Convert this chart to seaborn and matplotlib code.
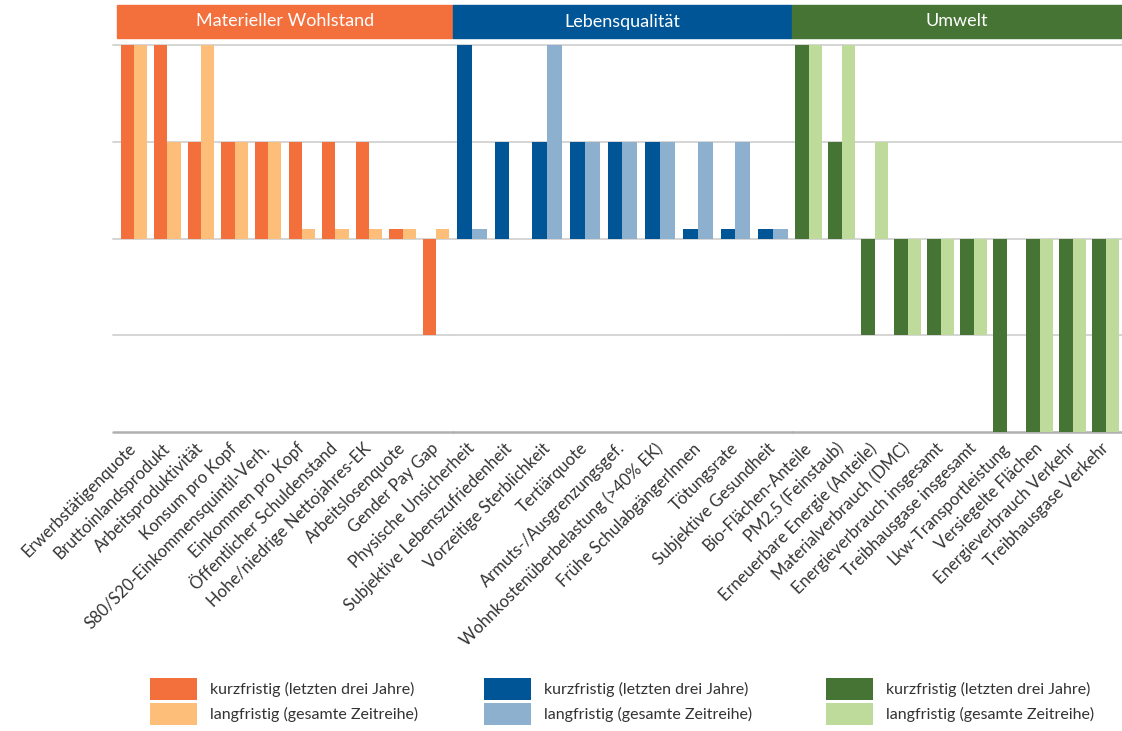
import numpy as np
import pandas as pd
import matplotlib
matplotlib.use("Agg")
import matplotlib.pyplot as plt
from matplotlib.patches import Rectangle, Patch
import seaborn as sns

# Scores: 2 / 1 / 0 / -1 / -2, NaN = no assessment
mat_cats = ["Erwerbstätigenquote", "Bruttoinlandsprodukt", "Arbeitsproduktivität",
            "Konsum pro Kopf", "S80/S20-Einkommensquintil-Verh.", "Einkommen pro Kopf",
            "Öffentlicher Schuldenstand", "Hohe/niedrige Nettojahres-EK",
            "Arbeitslosenquote", "Gender Pay Gap"]
mat_short = [2, 2, 1, 1, 1, 1, 1, 1, 0, -1]
mat_long = [2, 1, 2, 1, 1, 0, 0, 0, 0, 0]

leb_cats = ["Physische Unsicherheit", "Subjektive Lebenszufriedenheit",
            "Vorzeitige Sterblichkeit", "Tertiärquote", "Armuts-/Ausgrenzungsgef.",
            "Wohnkostenüberbelastung (>40% EK)", "Frühe SchulabgängerInnen",
            "Tötungsrate", "Subjektive Gesundheit"]
leb_short = [2, 1, 1, 1, 1, 1, 0, 0, 0]
leb_long = [0, np.nan, 2, 1, 1, 1, 1, 1, 0]

umw_cats = ["Bio-Flächen-Anteile", "PM2,5 (Feinstaub)", "Erneuerbare Energie (Anteile)",
            "Materialverbrauch (DMC)", "Energieverbrauch insgesamt",
            "Treibhausgase insgesamt", "Lkw-Transportleistung", "Versiegelte Flächen",
            "Energieverbrauch Verkehr", "Treibhausgase Verkehr"]
umw_short = [2, 1, -1, -1, -1, -1, -2, -2, -2, -2]
umw_long = [2, 2, 1, -1, -1, -1, np.nan, -2, -2, -2]

periods = ["kurzfristig (letzten drei Jahre)", "langfristig (gesamte Zeitreihe)"]

groups = [
    ("Materieller Wohlstand", mat_cats, mat_short, mat_long, ["#F3703D", "#FDBE79"]),
    ("Lebensqualität", leb_cats, leb_short, leb_long, ["#005597", "#8CB0CE"]),
    ("Umwelt", umw_cats, umw_short, umw_long, ["#467434", "#BEDB9C"]),
]

sns.set_theme(style="white")
plt.rcParams["font.family"] = ["Lato", "DejaVu Sans"]

W, H = 1122, 731
fig = plt.figure(figsize=(W / 100, H / 100), dpi=100)

# axes extents in pixels (left, right)
spans = [(117, 453), (453, 792), (792, 1122)]
y_top, y_bot = 45, 432

for (title, cats, short, long_, cols), (x0, x1) in zip(groups, spans):
    ax = fig.add_axes([x0 / W, 1 - y_bot / H, (x1 - x0) / W, (y_bot - y_top) / H])
    ax.patch.set_alpha(0)
    df = pd.DataFrame({
        "cat": cats * 2,
        "period": [periods[0]] * len(cats) + [periods[1]] * len(cats),
        "value": list(short) + list(long_),
    })
    # a zero score is shown as a small stub
    df["shown"] = np.where(df["value"] == 0, 0.1, df["value"])
    df = df.dropna()

    for lvl in [2, 1, 0, -1]:
        ax.axhline(lvl, color="#d2d2d2", lw=1.3, zorder=0, clip_on=False,
                   xmin=-0.012 if x0 == 117 else 0)
    ax.axhline(-2, color="#b0b0b0", lw=1.8, zorder=0, clip_on=False,
               xmin=-0.012 if x0 == 117 else 0)

    sns.barplot(data=df, x="cat", y="shown", hue="period", order=cats,
                hue_order=periods, palette=cols, saturation=1, width=0.79,
                errorbar=None, legend=False, ax=ax, zorder=2,
                linewidth=0, edgecolor="none")

    ax.set_xlim(-0.5, len(cats) - 0.5)
    ax.set_ylim(-2, 2)
    ax.set_xlabel("")
    ax.set_ylabel("")
    ax.set_yticks([])
    ax.set_xticks(range(len(cats)))
    ax.set_xticklabels(cats, rotation=45, ha="right", va="center",
                       rotation_mode="anchor", fontsize=12, color="#333333")
    ax.tick_params(axis="x", length=0, pad=10)
    for s in ax.spines.values():
        s.set_visible(False)

    # coloured header band
    hb0 = (y_bot - 38) / (y_bot - y_top)
    hb1 = (y_bot - 5) / (y_bot - y_top)
    ax.add_patch(Rectangle((0, hb0), 1, hb1 - hb0, transform=ax.transAxes,
                           color=cols[0], clip_on=False, zorder=3))
    ax.text(0.5, (hb0 + hb1) / 2, title, transform=ax.transAxes, ha="center",
            va="center", color="white", fontsize=13, zorder=4)

# legends below
leg_x = [150, 484, 826]
for (title, cats, short, long_, cols), lx in zip(groups, leg_x):
    handles = [Patch(facecolor=c, edgecolor="none") for c in cols]
    leg = fig.legend(handles, periods, loc="upper left",
                     bbox_to_anchor=(lx / W, 1 - 678 / H), frameon=False,
                     borderaxespad=0, borderpad=0, fontsize=11.5,
                     handlelength=2.95, handleheight=1.75, handletextpad=0.8,
                     labelspacing=0.2)
    for t in leg.get_texts():
        t.set_color("#333333")

fig.savefig("out.png", dpi=100)
